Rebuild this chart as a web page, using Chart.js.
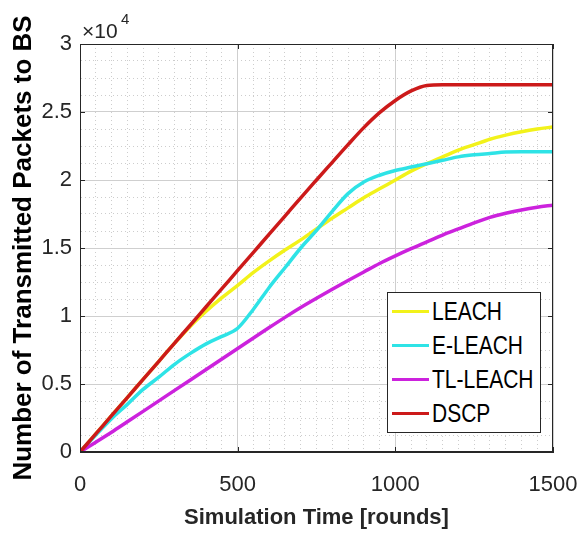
<!DOCTYPE html>
<html>
<head>
<meta charset="utf-8">
<script src="https://cdn.jsdelivr.net/npm/chart.js@4"></script>
<style>
  body { margin: 0; background: #fff; }
  #wrap { position: relative; width: 581px; height: 534px; }
  #legend {
    position: absolute; left: 387px; top: 292px; width: 152px; height: 139px;
    border: 1px solid #262626; background: #fff;
    font-family: "Liberation Sans", Arial, sans-serif; font-size: 25px; color: #000;
  }
  .item { position: absolute; left: 4px; height: 30px; display: flex; align-items: center; white-space: nowrap; }
  .item span.sw { display: inline-block; width: 37px; height: 3px; margin-right: 3px; flex: none; }
  .item span.tx { display: inline-block; transform: scaleX(0.84); transform-origin: left center; }
</style>
</head>
<body>
<div id="wrap">
  <canvas id="myChart" width="581" height="534"></canvas>
  <div id="legend"></div>
</div>
<script>
const rounds = [0, 50, 100, 150, 200, 250, 300, 350, 400, 450, 500, 550, 600, 650, 700, 750,
    800, 850, 900, 950, 1000, 1050, 1100, 1150, 1200, 1250, 1300, 1350, 1400, 1450, 1500];

const leach = [0, 1330, 2670, 4000, 5340, 6670, 8000, 9250, 10350, 11350, 12250, 13200, 14050, 14850, 15600, 16400,
    17200, 17950, 18700, 19350, 20000, 20650, 21200, 21700, 22200, 22600, 23000, 23300, 23550, 23750, 23900];
const eLeach = [0, 1250, 2450, 3500, 4600, 5500, 6450, 7250, 7950, 8500, 9100, 10500, 12100, 13550, 15000, 16300,
    17700, 19000, 19850, 20350, 20700, 20950, 21200, 21450, 21700, 21850, 21950, 22050, 22080, 22080, 22080];
const tlLeach = [0, 720, 1450, 2220, 2990, 3760, 4530, 5300, 6070, 6840, 7610, 8380, 9150, 9900, 10620, 11300,
    11960, 12610, 13240, 13860, 14420, 14950, 15450, 15950, 16400, 16850, 17250, 17550, 17800, 18000, 18150];
const dscp = [0, 1330, 2670, 4000, 5340, 6670, 8010, 9340, 10680, 12010, 13350, 14680, 16020, 17350, 18690, 20000,
    21300, 22600, 23850, 24950, 25850, 26550, 26950, 27000, 27000, 27000, 27000, 27000, 27000, 27000, 27000];

const seriesNames = ['LEACH', 'E-LEACH', 'TL-LEACH', 'DSCP'];
const seriesColors = ['#f2f21a', '#2ee3e6', '#cc22dd', '#cc1a1a'];
const seriesValues = [leach, eLeach, tlLeach, dscp];

const xTickStep = 50;
const yTickStep = 1250;

const axisColor = '#262626';
const majorGrid = '#cfcfcf';
const minorGrid = '#cdcdcd';

const isMajorX = c => c.tick && c.tick.value % 500 === 0;
const isMajorY = c => c.tick && c.tick.value % 5000 === 0;

// box round the plot, inward major ticks and the x10^4 exponent
const boxPlugin = {
    id: 'boxPlugin',
    afterDraw(chart) {
        const { ctx, chartArea: a, scales } = chart;
        ctx.save();
        ctx.strokeStyle = axisColor;
        ctx.lineWidth = 1;
        ctx.strokeRect(a.left + 0.5, a.top + 0.5, a.right - a.left - 1, a.bottom - a.top - 1);
        ctx.beginPath();
        scales.x.ticks.forEach(t => {
            if (t.value % 500 !== 0) return;
            const px = Math.round(scales.x.getPixelForValue(t.value)) + 0.5;
            ctx.moveTo(px, a.bottom); ctx.lineTo(px, a.bottom - 5);
            ctx.moveTo(px, a.top); ctx.lineTo(px, a.top + 5);
        });
        scales.y.ticks.forEach(t => {
            if (t.value % 5000 !== 0) return;
            const py = Math.round(scales.y.getPixelForValue(t.value)) + 0.5;
            ctx.moveTo(a.left, py); ctx.lineTo(a.left + 5, py);
            ctx.moveTo(a.right, py); ctx.lineTo(a.right - 5, py);
        });
        ctx.stroke();
        ctx.fillStyle = axisColor;
        ctx.textBaseline = 'alphabetic';
        ctx.font = '21px "Liberation Sans"';
        ctx.fillText('\u00d710', 82, 38);
        ctx.font = '15px "Liberation Sans"';
        ctx.fillText('4', 121, 24);
        ctx.restore();
    }
};

const ctx = document.getElementById('myChart').getContext('2d');

const chart = new Chart(ctx, {
    type: 'line',
    data: {
        datasets: seriesNames.map((name, i) => ({
            label: name,
            data: rounds.map((r, j) => ({ x: r, y: seriesValues[i][j] })),
            borderColor: seriesColors[i],
            backgroundColor: seriesColors[i],
            borderWidth: 3.5,
            pointRadius: 0,
            cubicInterpolationMode: 'monotone',
            fill: false,
            order: seriesNames.length - i
        }))
    },
    options: {
        responsive: false,
        animation: false,
        layout: { padding: { top: 44, right: 28, left: 0, bottom: 0 } },
        plugins: {
            legend: { display: false },
            tooltip: { enabled: false }
        },
        scales: {
            x: {
                type: 'linear',
                min: 0,
                max: 1500,
                afterFit: s => { s.height = 82; s.paddingRight = 0; s.paddingLeft = 0; },
                ticks: {
                    stepSize: xTickStep,
                    autoSkip: false,
                    maxRotation: 0,
                    padding: 20,
                    color: axisColor,
                    font: { family: 'Liberation Sans', size: 22 },
                    callback: v => (v % 500 === 0 ? String(v) : '')
                },
                grid: {
                    drawTicks: false,
                    color: c => (isMajorX(c) ? majorGrid : minorGrid),
                    lineWidth: 1
                },
                border: {
                    color: axisColor,
                    dash: c => (c.tick && !isMajorX(c) ? [1, 3] : [])
                },
                title: {
                    display: true,
                    text: 'Simulation Time [rounds]',
                    color: axisColor,
                    font: { family: 'Liberation Sans', size: 22, weight: 'bold' },
                    padding: { top: 0, bottom: 3 }
                }
            },
            y: {
                min: 0,
                max: 30000,
                afterFit: s => { s.width = 80; },
                ticks: {
                    stepSize: yTickStep,
                    autoSkip: false,
                    padding: 8,
                    color: axisColor,
                    font: { family: 'Liberation Sans', size: 22 },
                    callback: v => (v % 5000 === 0 ? String(v / 10000) : '')
                },
                grid: {
                    drawTicks: false,
                    color: c => (isMajorY(c) ? majorGrid : minorGrid),
                    lineWidth: 1
                },
                border: {
                    color: axisColor,
                    dash: c => (c.tick && !isMajorY(c) ? [1, 3] : [])
                },
                title: {
                    display: true,
                    text: 'Number of Transmitted Packets to BS',
                    color: '#000',
                    font: { family: 'Liberation Sans', size: 26, weight: 'bold' },
                    padding: { top: 8, bottom: 0 }
                }
            }
        }
    },
    plugins: [boxPlugin]
});

// legend inside the axes, built from the datasets
const legendEl = document.getElementById('legend');
const rowTops = [3, 37, 71, 105];
chart.data.datasets.forEach((ds, i) => {
    const row = document.createElement('div');
    row.className = 'item';
    row.style.top = rowTops[i] + 'px';
    const sw = document.createElement('span');
    sw.className = 'sw';
    sw.style.background = ds.borderColor;
    const label = document.createElement('span');
    label.className = 'tx';
    label.textContent = ds.label;
    row.appendChild(sw);
    row.appendChild(label);
    legendEl.appendChild(row);
});
</script>
</body>
</html>
